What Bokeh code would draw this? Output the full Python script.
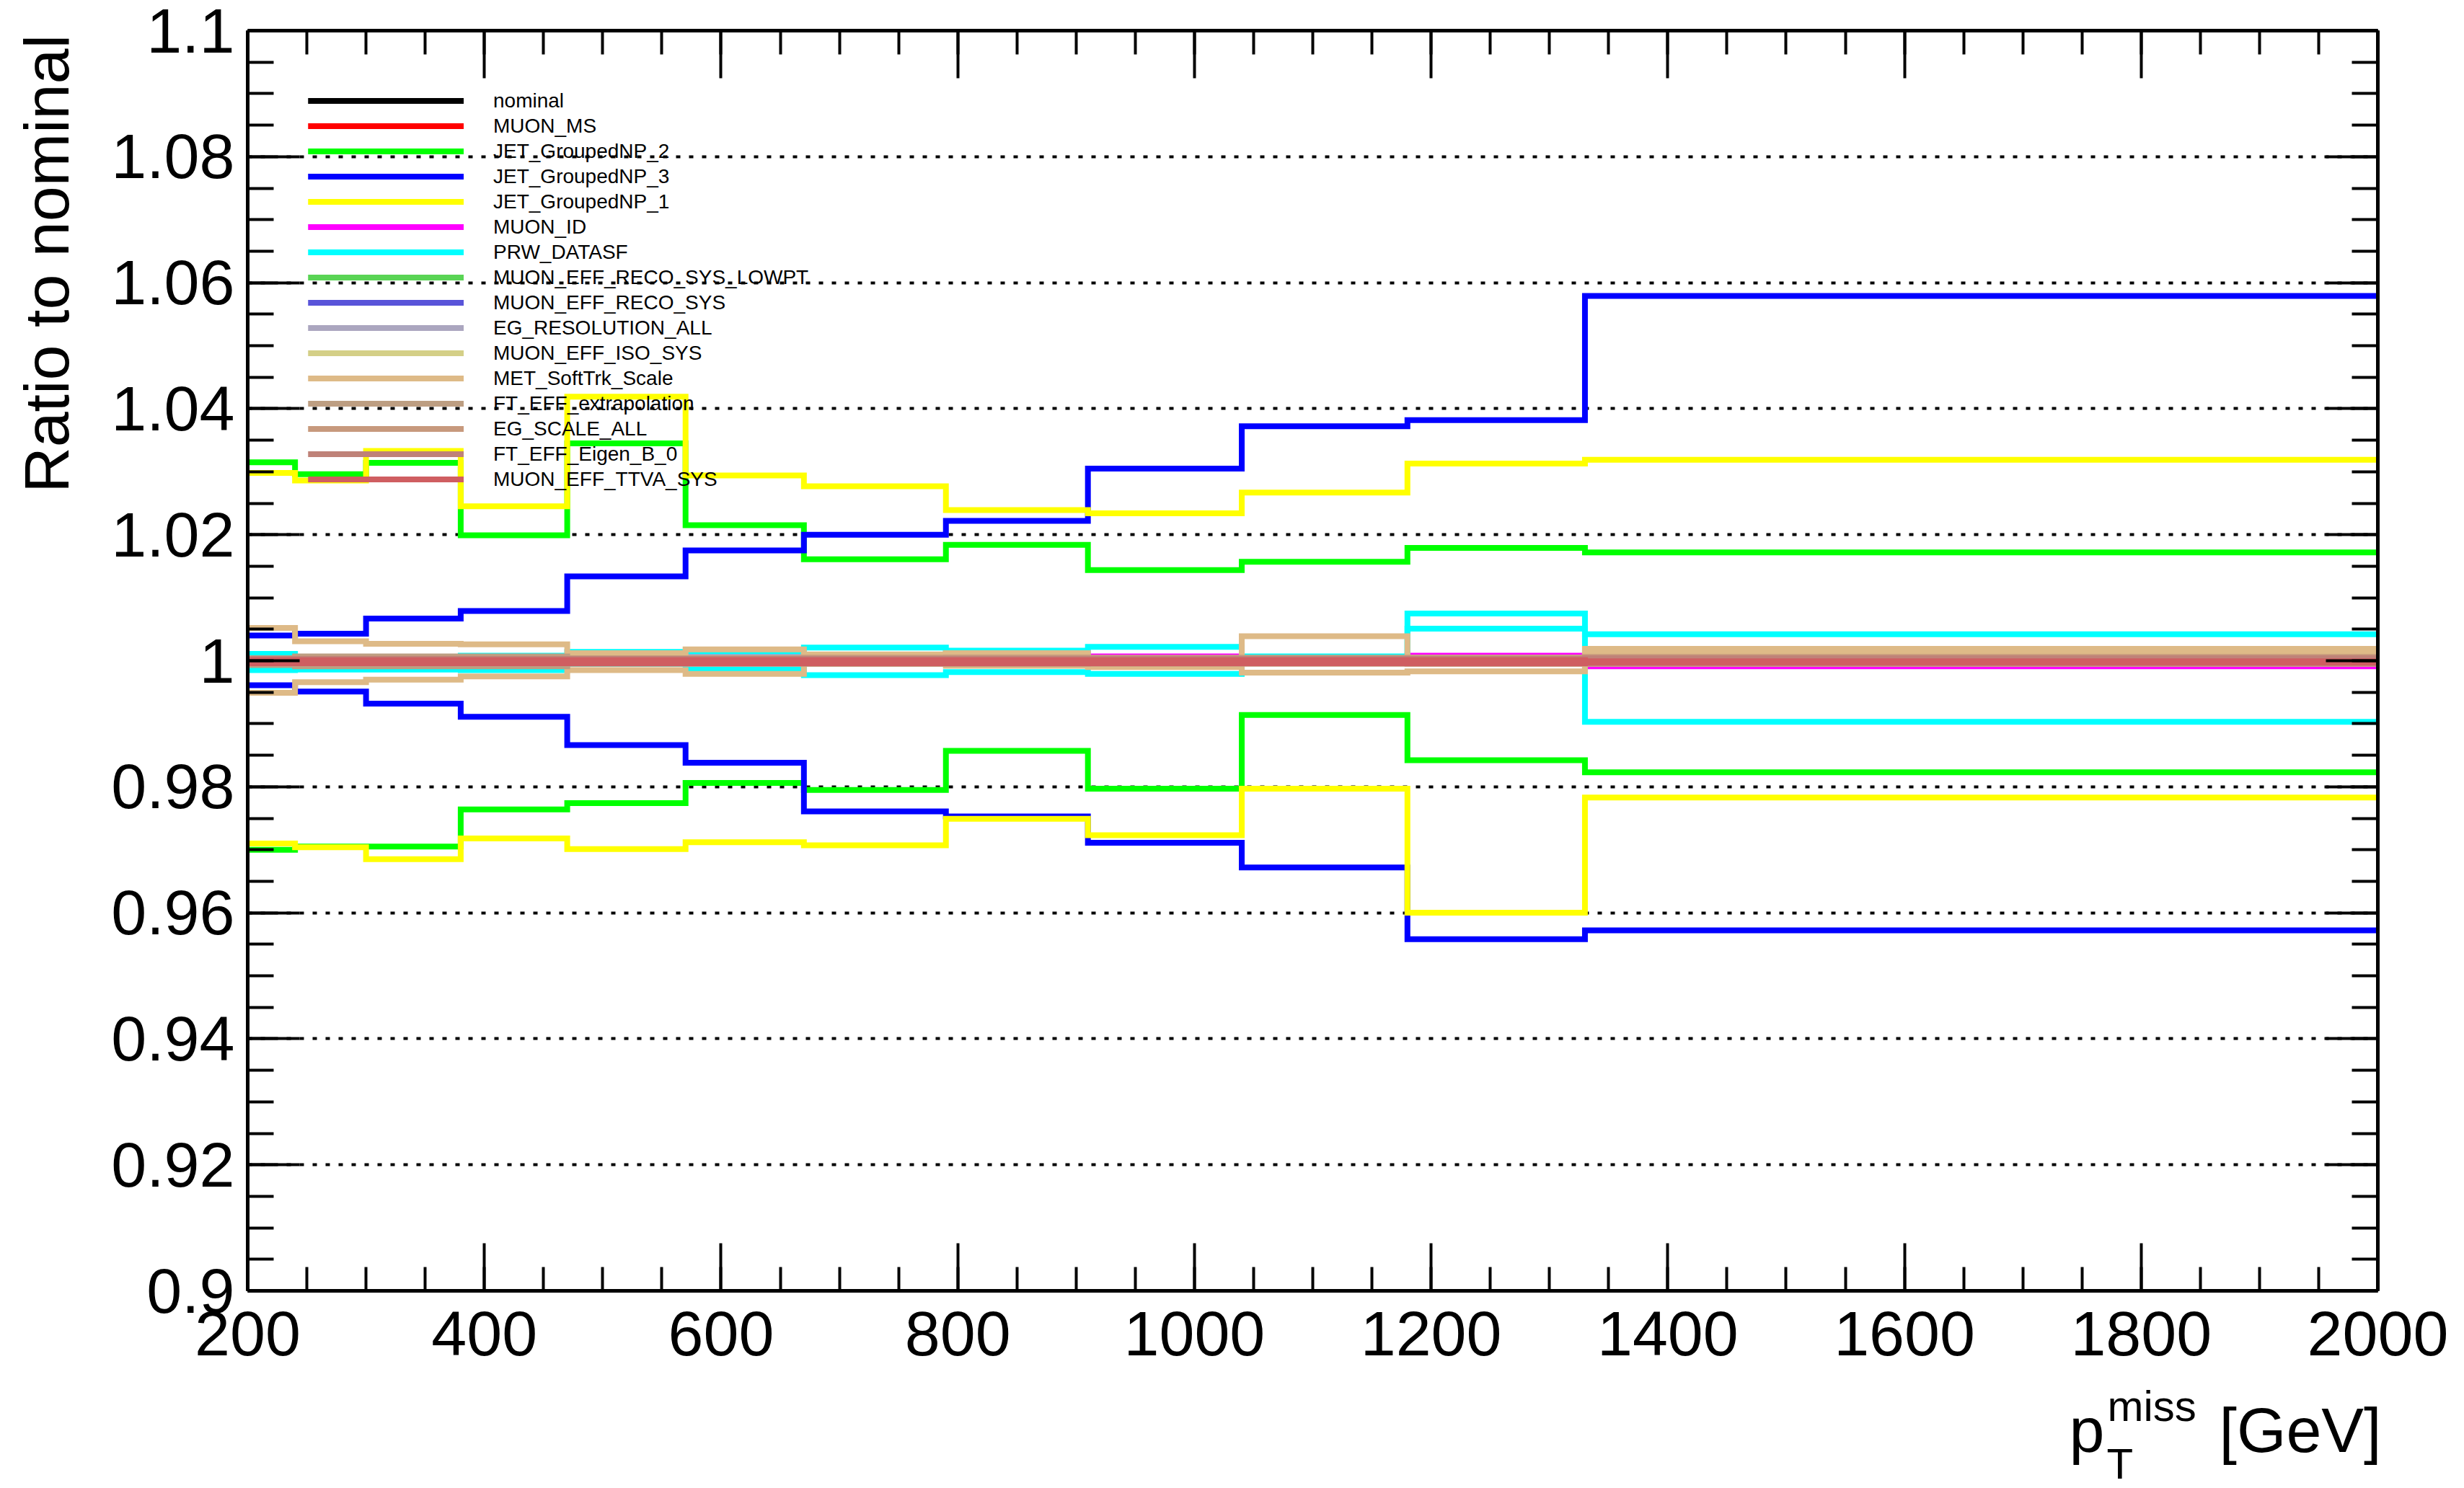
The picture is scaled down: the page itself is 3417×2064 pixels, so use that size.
import math
from bokeh.plotting import figure
from bokeh.layouts import column, row
from bokeh.models import (Range1d, LinearAxis, FixedTicker, SingleIntervalTicker,
                          Legend, LegendItem, ColumnDataSource, CustomJSTickFormatter)
from bokeh.core.properties import value
from bokeh.embed import file_html
from bokeh.resources import INLINE

# ---------------- data ----------------
bin_edges = [200, 240, 300, 380, 470, 570, 670, 790, 910, 1040, 1180, 1330, 2000]

nominal = [1.0, 1.0, 1.0, 1.0, 1.0, 1.0, 1.0, 1.0, 1.0, 1.0, 1.0, 1.0]

muon_ms_up = [1.0002, 1.0001, 1.0001, 1.0001, 1.0002, 1.0001, 1.0002, 1.0001, 1.0002, 1.0001, 1.0002, 1.0001]
muon_ms_dn = [0.9998, 0.9999, 0.9999, 0.9999, 0.9998, 0.9999, 0.9998, 0.9999, 0.9998, 0.9999, 0.9998, 0.9999]

jet_np2_up = [1.0315, 1.0296, 1.0314, 1.0199, 1.0345, 1.0215, 1.0161, 1.0184, 1.0144, 1.0157, 1.0179, 1.0172]
jet_np2_dn = [0.9700, 0.9705, 0.9705, 0.9764, 0.9774, 0.9806, 0.9795, 0.9857, 0.9797, 0.9914, 0.9842, 0.9823]

jet_np3_up = [1.0040, 1.0043, 1.0067, 1.0079, 1.0134, 1.0175, 1.0200, 1.0222, 1.0305, 1.0372, 1.0382, 1.0579]
jet_np3_dn = [0.9961, 0.9951, 0.9932, 0.9911, 0.9866, 0.9838, 0.9761, 0.9753, 0.9711, 0.9672, 0.9558, 0.9572]

jet_np1_up = [1.0298, 1.0286, 1.0333, 1.0245, 1.0419, 1.0294, 1.0277, 1.0239, 1.0234, 1.0267, 1.0313, 1.0319]
jet_np1_dn = [0.9710, 0.9704, 0.9685, 0.9718, 0.9701, 0.9712, 0.9707, 0.9749, 0.9723, 0.9797, 0.9600, 0.9783]

muon_id_up = [1.0003, 1.0002, 1.0003, 1.0003, 1.0004, 1.0004, 1.0005, 1.0006, 1.0007, 1.0006, 1.0008, 1.0004]
muon_id_dn = [0.9997, 0.9998, 0.9997, 0.9997, 0.9996, 0.9996, 0.9996, 0.9995, 0.9995, 0.9996, 0.9995, 0.9991]

prw_up = [1.0011, 1.0005, 1.0005, 1.0008, 1.0014, 1.0012, 1.0021, 1.0016, 1.0022, 1.0007, 1.0075, 0.9903]
prw_dn = [0.9985, 0.9986, 0.9986, 0.9985, 0.9995, 0.9986, 0.9977, 0.9982, 0.9979, 0.9999, 1.0051, 1.0042]

reco_lowpt_up = [1.0002, 1.0002, 1.0002, 1.0002, 1.0003, 1.0003, 1.0003, 1.0003, 1.0004, 1.0004, 1.0004, 1.0003]
reco_lowpt_dn = [0.9998, 0.9998, 0.9998, 0.9998, 0.9997, 0.9997, 0.9997, 0.9997, 0.9996, 0.9996, 0.9996, 0.9997]

reco_sys_up = [1.0003, 1.0003, 1.0003, 1.0003, 1.0003, 1.0003, 1.0003, 1.0004, 1.0004, 1.0004, 1.0004, 1.0004]
reco_sys_dn = [0.9997, 0.9997, 0.9997, 0.9997, 0.9997, 0.9997, 0.9997, 0.9996, 0.9996, 0.9996, 0.9996, 0.9996]

eg_res_up = [1.0002, 1.0003, 1.0003, 1.0004, 1.0006, 1.0006, 1.0008, 1.0012, 1.0004, 1.0003, 1.0005, 1.0003]
eg_res_dn = [0.9998, 0.9997, 0.9997, 0.9996, 0.9996, 0.9995, 0.9996, 0.9994, 0.9997, 0.9998, 0.9997, 0.9998]

iso_up = [1.0003, 1.0003, 1.0003, 1.0003, 1.0004, 1.0004, 1.0004, 1.0004, 1.0004, 1.0004, 1.0005, 1.0009]
iso_dn = [0.9997, 0.9997, 0.9997, 0.9997, 0.9996, 0.9996, 0.9996, 0.9996, 0.9996, 0.9996, 0.9995, 0.9995]

met_up = [1.0052, 1.0031, 1.0027, 1.0026, 1.0012, 1.0018, 1.0010, 1.0012, 1.0003, 1.0039, 1.0004, 1.0019]
met_dn = [0.9949, 0.9966, 0.9970, 0.9975, 0.9985, 0.9979, 0.9997, 0.9992, 0.9990, 0.9981, 0.9983, 1.0011]

ft_extrap_up = [1.0004, 1.0007, 1.0007, 1.0007, 1.0004, 1.0004, 1.0004, 1.0005, 1.0004, 1.0004, 1.0004, 1.0005]
ft_extrap_dn = [0.9993, 0.9991, 0.9991, 0.9991, 0.9995, 0.9995, 0.9995, 0.9995, 0.9996, 0.9996, 0.9996, 0.9996]

eg_scale_up = [1.0004, 1.0004, 1.0004, 1.0004, 1.0004, 1.0004, 1.0005, 1.0005, 1.0005, 1.0005, 1.0005, 1.0006]
eg_scale_dn = [0.9996, 0.9996, 0.9996, 0.9996, 0.9996, 0.9996, 0.9995, 0.9995, 0.9995, 0.9995, 0.9995, 0.9995]

ft_eigen_up = [1.0003, 1.0003, 1.0003, 1.0003, 1.0003, 1.0003, 1.0003, 1.0003, 1.0003, 1.0003, 1.0003, 1.0004]
ft_eigen_dn = [0.9997, 0.9997, 0.9997, 0.9997, 0.9997, 0.9997, 0.9997, 0.9997, 0.9997, 0.9997, 0.9997, 0.9996]

ttva_up = [1.0001, 1.0001, 1.0001, 1.0001, 1.0001, 1.0001, 1.0001, 1.0001, 1.0001, 1.0001, 1.0001, 0.9999]
ttva_dn = [0.9996, 0.9996, 0.9996, 0.9996, 0.9996, 0.9996, 0.9996, 0.9996, 0.9996, 0.9996, 0.9996, 0.9997]

series_names = ["nominal", "MUON_MS", "JET_GroupedNP_2", "JET_GroupedNP_3", "JET_GroupedNP_1",
                "MUON_ID", "PRW_DATASF", "MUON_EFF_RECO_SYS_LOWPT", "MUON_EFF_RECO_SYS",
                "EG_RESOLUTION_ALL", "MUON_EFF_ISO_SYS", "MET_SoftTrk_Scale", "FT_EFF_extrapolation",
                "EG_SCALE_ALL", "FT_EFF_Eigen_B_0", "MUON_EFF_TTVA_SYS"]
series_up = [nominal, muon_ms_up, jet_np2_up, jet_np3_up, jet_np1_up, muon_id_up, prw_up,
             reco_lowpt_up, reco_sys_up, eg_res_up, iso_up, met_up, ft_extrap_up, eg_scale_up,
             ft_eigen_up, ttva_up]
series_dn = [nominal, muon_ms_dn, jet_np2_dn, jet_np3_dn, jet_np1_dn, muon_id_dn, prw_dn,
             reco_lowpt_dn, reco_sys_dn, eg_res_dn, iso_dn, met_dn, ft_extrap_dn, eg_scale_dn,
             ft_eigen_dn, ttva_dn]
series_colors = ["#000000", "#FF0000", "#00FF00", "#0000FF", "#FFFF00", "#FF00FF", "#00FFFF",
                 "#59D454", "#5954D9", "#ABA6BF", "#D4CF87", "#DEBA87", "#BD9E82", "#C7997D",
                 "#BF8278", "#CF5E61"]

y_ticks = [0.9, 0.92, 0.94, 0.96, 0.98, 1.0, 1.02, 1.04, 1.06, 1.08, 1.1]
y_tick_labels = ["0.9", "0.92", "0.94", "0.96", "0.98", "1", "1.02", "1.04", "1.06", "1.08", "1.1"]

y_title = "Ratio to nominal"
x_title_main, x_title_sub, x_title_sup, x_title_unit = "p", "T", "miss", "[GeV]"

# ---------------- layout geometry (page pixels) ----------------
FONT = "Liberation Sans"
W, H = 3417, 2064
LEFT_W = 140                 # strip holding the y-axis title
MAIN_H = 1915                # main plot height; below it a strip with the x-axis title
FL, FR, FT, FB = 343, 3297, 42, 1790   # frame edges on the page

p = figure(width=W - LEFT_W, height=MAIN_H, x_range=Range1d(200, 2000), y_range=Range1d(0.9, 1.1),
           output_backend="svg", toolbar_location=None,
           min_border_left=FL - LEFT_W, min_border_right=W - FR,
           min_border_top=FT, min_border_bottom=MAIN_H - FB)
p.outline_line_color = None
p.background_fill_color = "white"
p.border_fill_color = "white"

y_minor = [round(0.9 + 0.005 * i, 4) for i in range(41)]
y_ticker = FixedTicker(ticks=y_ticks, minor_ticks=y_minor)
x_ticker = SingleIntervalTicker(interval=200, num_minor_ticks=4)
y_overrides = {t: lab for t, lab in zip(y_ticks, y_tick_labels)}


def style_axis(ax, major_in, minor_in, show_labels, standoff=18):
    ax.axis_line_width = 5
    ax.axis_line_color = "black"
    ax.major_tick_in = major_in
    ax.major_tick_out = 0
    ax.minor_tick_in = minor_in
    ax.minor_tick_out = 0
    ax.major_tick_line_width = 4
    ax.minor_tick_line_width = 4
    ax.major_tick_line_color = "black"
    ax.minor_tick_line_color = "black"
    ax.major_label_text_font = FONT
    ax.major_label_text_color = "black"
    if show_labels:
        ax.major_label_text_font_size = "88px"
        ax.major_label_standoff = standoff
    else:
        ax.major_label_text_font_size = "0px"
        ax.major_label_standoff = 0
        ax.formatter = CustomJSTickFormatter(code="return ''")


xb = p.xaxis[0]
xb.ticker = x_ticker
style_axis(xb, 66, 33, True, standoff=29)

yl = p.yaxis[0]
yl.ticker = y_ticker
yl.major_label_overrides = y_overrides
style_axis(yl, 72, 36, True, standoff=18)

xt = LinearAxis(ticker=SingleIntervalTicker(interval=200, num_minor_ticks=4))
style_axis(xt, 66, 33, False)
p.add_layout(xt, "above")

yr = LinearAxis(ticker=FixedTicker(ticks=y_ticks, minor_ticks=y_minor))
style_axis(yr, 72, 36, False)
p.add_layout(yr, "right")

p.xgrid.visible = False
p.ygrid.ticker = y_ticker
p.ygrid.grid_line_color = "black"
p.ygrid.grid_line_width = 4
p.ygrid.grid_line_dash = "6 12"

# ---------------- histograms ----------------
items = []
for name, col, up, dn in zip(series_names, series_colors, series_up, series_dn):
    rends = []
    for vals in (up, dn):
        src = ColumnDataSource(dict(x=bin_edges, y=list(vals) + [vals[-1]]))
        r = p.step(x="x", y="y", source=src, mode="after", line_color=col, line_width=8,
                   line_join="miter", line_cap="butt")
        rends.append(r)
    items.append(LegendItem(label=name, renderers=rends))

legend = Legend(items=items, location=(427 - FL, FB - 682), orientation="vertical",
                padding=0, margin=0, spacing=0, glyph_width=216, glyph_height=35,
                label_height=35, label_standoff=41, label_text_font=FONT,
                label_text_font_size="28px", label_text_color="black",
                border_line_color=None, background_fill_alpha=0)
p.add_layout(legend)


# ---------------- title strips (1 data unit = 1 pixel) ----------------
def strip(w, h):
    f = figure(width=w, height=h, x_range=Range1d(0, w), y_range=Range1d(0, h),
               output_backend="svg", toolbar_location=None,
               x_axis_location=None, y_axis_location=None,
               min_border=0, min_border_left=0, min_border_right=0,
               min_border_top=0, min_border_bottom=0)
    f.outline_line_color = None
    f.background_fill_color = "white"
    f.border_fill_color = "white"
    for g in f.grid:
        g.visible = False
    return f


def put(f, text, x, y, size, align="left", angle=0.0):
    f.text(x=[x], y=[y], text=[text], angle=angle, text_font=value(FONT),
           text_font_size=value(size), text_color="black", text_align=align,
           text_baseline="alphabetic")


left_strip = strip(LEFT_W, MAIN_H)
put(left_strip, y_title, 64, MAIN_H - 6, "88px", align="right", angle=math.pi / 2)

BOT_H = H - MAIN_H
bottom_strip = strip(W, BOT_H)
put(bottom_strip, x_title_main, 2869, H - 1983, "88px")
put(bottom_strip, x_title_sub, 2921, H - 2030, "60px")
put(bottom_strip, x_title_sup, 2922, H - 1950, "60px")
put(bottom_strip, x_title_unit, 3302, H - 1983, "88px", align="right")

layout = column(row(left_strip, p, spacing=0), bottom_strip, spacing=0)

open("out.html", "w").write(file_html(layout, INLINE))
